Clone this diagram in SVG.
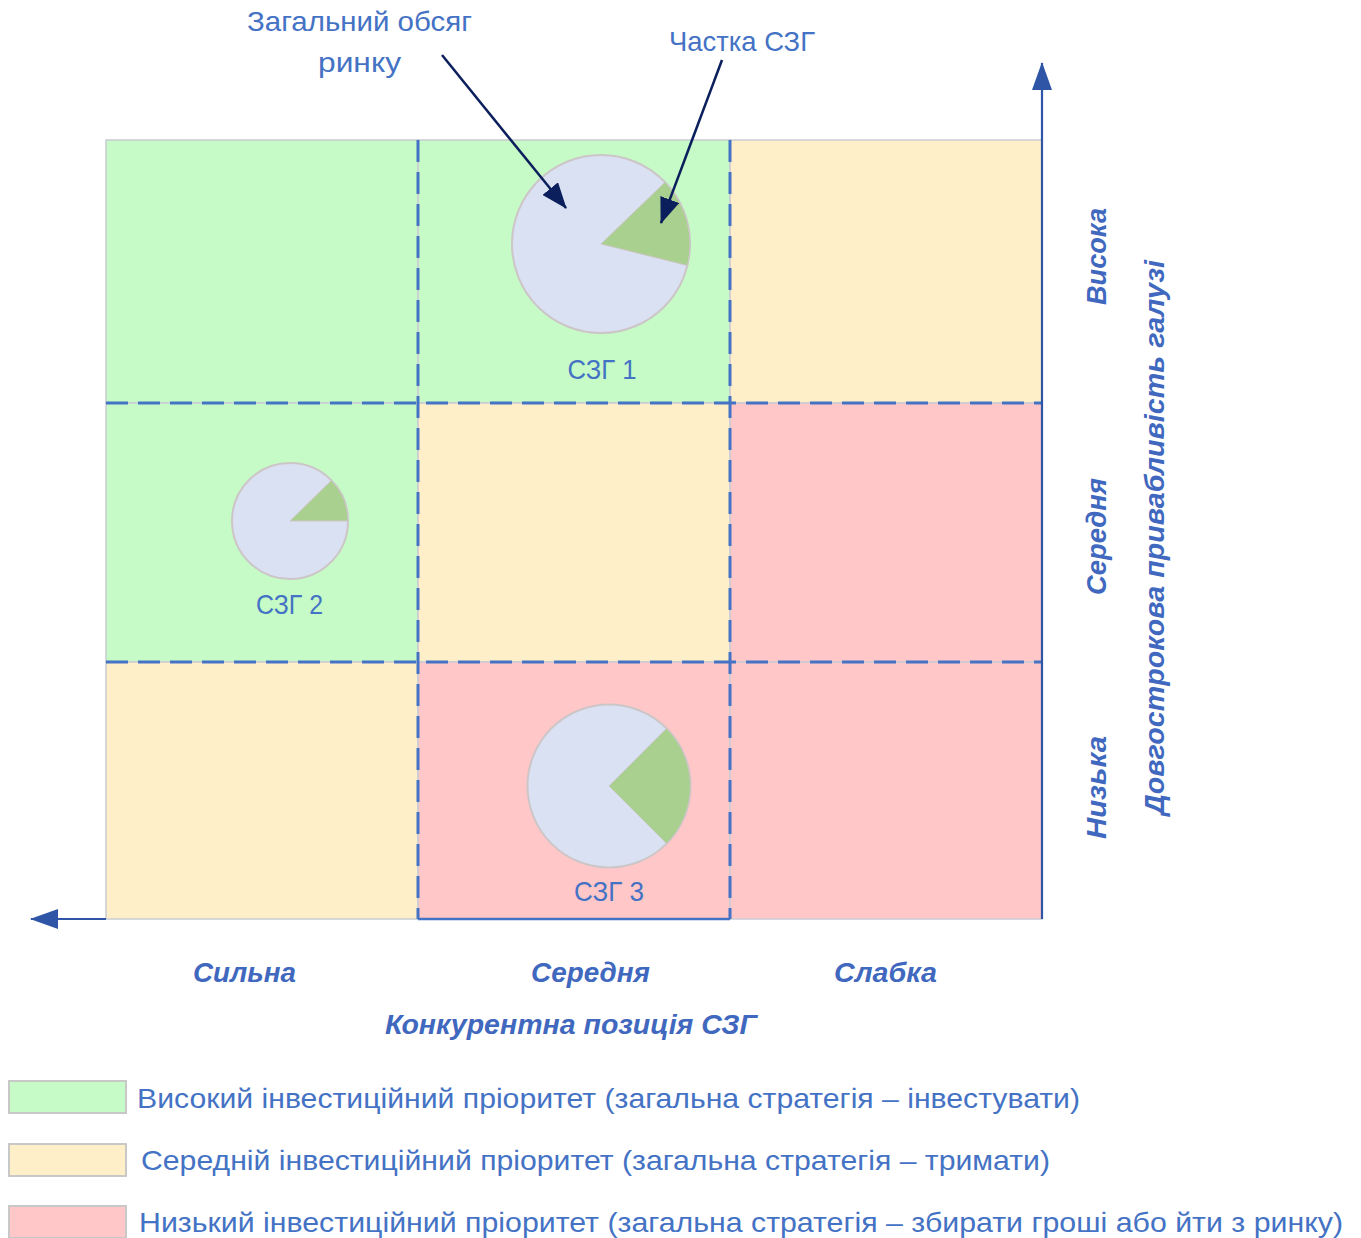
<svg xmlns="http://www.w3.org/2000/svg" width="1361" height="1238" viewBox="0 0 1361 1238">
  <style>
    .txt { font-family: "Liberation Sans", Arial, sans-serif; font-size: 28px; fill: #4472C4; }
    .ax { font-family: "Liberation Sans", Arial, sans-serif; font-size: 28px; font-weight: bold; font-style: italic; fill: #3F68BE; }
    .green { fill: #C6FAC6; }
    .yellow { fill: #FFEFC8; }
    .pink { fill: #FFC7C7; }
    .cell { stroke: #C9CCD4; stroke-width: 1.5; }
    .dash { stroke: #4472C4; stroke-width: 3; stroke-dasharray: 22 10; fill: none; }
    .pie { fill: #D9E1F2; stroke: #CDC6C8; stroke-width: 2; }
    .wedge { fill: #A9D08E; stroke: #CDC6C8; stroke-width: 1; }
    .callout { stroke: #0B1F5C; stroke-width: 2.5; fill: none; }
    .axis { stroke: #2F56A6; stroke-width: 2.2; fill: none; }
    .swatch { stroke: #C8C8C8; stroke-width: 2; }
  </style>
  <defs>
    <marker id="headDark" viewBox="0 0 26 20" refX="25" refY="10" markerWidth="26" markerHeight="20" markerUnits="userSpaceOnUse" orient="auto">
      <path d="M0,0 L26,10 L0,20 Z" fill="#0B1F5C"/>
    </marker>
    <marker id="headAxis" viewBox="0 0 28 20" refX="27" refY="10" markerWidth="28" markerHeight="20" markerUnits="userSpaceOnUse" orient="auto">
      <path d="M0,0 L28,10 L0,20 Z" fill="#2F56A6"/>
    </marker>
  </defs>
  <rect width="1361" height="1238" fill="#FFFFFF"/>

  <!-- matrix cells -->
  <g id="matrix">
    <rect class="cell green" x="106" y="140" width="312" height="263"/>
    <rect class="cell green" x="418" y="140" width="312" height="263"/>
    <rect class="cell yellow" x="730" y="140" width="312" height="263"/>
    <rect class="cell green" x="106" y="403" width="312" height="259"/>
    <rect class="cell yellow" x="418" y="403" width="312" height="259"/>
    <rect class="cell pink" x="730" y="403" width="312" height="259"/>
    <rect class="cell yellow" x="106" y="662" width="312" height="257"/>
    <rect class="cell pink" x="418" y="662" width="312" height="257"/>
    <rect class="cell pink" x="730" y="662" width="312" height="257"/>
    <line x1="418" y1="919" x2="730" y2="919" stroke="#4472C4" stroke-width="2.5"/>
    <line class="dash" x1="106" y1="403" x2="1042" y2="403"/>
    <line class="dash" x1="106" y1="662" x2="1042" y2="662"/>
    <line class="dash" x1="418" y1="140" x2="418" y2="919"/>
    <line class="dash" x1="730" y1="140" x2="730" y2="919"/>
  </g>

  <!-- SBU pies -->
  <g id="sbu1">
    <circle class="pie" cx="601" cy="244" r="89"/>
    <path class="wedge" d="M601,244 L665,182.2 A89,89 0 0 1 687.4,265.5 Z"/>
    <text class="txt" x="602" y="379" text-anchor="middle" textLength="69" lengthAdjust="spacingAndGlyphs">СЗГ 1</text>
  </g>
  <g id="sbu2">
    <circle class="pie" cx="290" cy="521" r="58"/>
    <path class="wedge" d="M290,521 L331.4,480.4 A58,58 0 0 1 348,521 Z"/>
    <text class="txt" x="289.5" y="614" text-anchor="middle" textLength="67" lengthAdjust="spacingAndGlyphs">СЗГ 2</text>
  </g>
  <g id="sbu3">
    <circle class="pie" cx="609" cy="786" r="81.5"/>
    <path class="wedge" d="M609,786 L666.6,728.4 A81.5,81.5 0 0 1 666.6,843.6 Z"/>
    <text class="txt" x="609" y="901" text-anchor="middle" textLength="70" lengthAdjust="spacingAndGlyphs">СЗГ 3</text>
  </g>

  <!-- callout labels -->
  <g id="label-market">
    <text class="txt" x="359.5" y="31" text-anchor="middle" textLength="225" lengthAdjust="spacingAndGlyphs">Загальний обсяг</text>
    <text class="txt" x="359.5" y="72" text-anchor="middle" textLength="83" lengthAdjust="spacingAndGlyphs">ринку</text>
  </g>
  <g id="label-share">
    <text class="txt" x="742" y="51" text-anchor="middle" textLength="146" lengthAdjust="spacingAndGlyphs">Частка СЗГ</text>
  </g>

  <!-- axis labels -->
  <g id="x-axis-labels">
    <text class="ax" x="244.5" y="982" text-anchor="middle" textLength="103" lengthAdjust="spacingAndGlyphs">Сильна</text>
    <text class="ax" x="590.5" y="982" text-anchor="middle" textLength="119" lengthAdjust="spacingAndGlyphs">Середня</text>
    <text class="ax" x="885.5" y="982" text-anchor="middle" textLength="103" lengthAdjust="spacingAndGlyphs">Слабка</text>
    <text class="ax" x="571" y="1034" text-anchor="middle" textLength="372" lengthAdjust="spacingAndGlyphs">Конкурентна позиція СЗГ</text>
  </g>
  <g id="y-axis-labels">
    <text class="ax" transform="translate(1106,256.5) rotate(-90)" text-anchor="middle" textLength="97" lengthAdjust="spacingAndGlyphs">Висока</text>
    <text class="ax" transform="translate(1106,536.5) rotate(-90)" text-anchor="middle" textLength="117" lengthAdjust="spacingAndGlyphs">Середня</text>
    <text class="ax" transform="translate(1106,787.5) rotate(-90)" text-anchor="middle" textLength="103" lengthAdjust="spacingAndGlyphs">Низька</text>
    <text class="ax" transform="translate(1164,537.5) rotate(-90)" text-anchor="middle" textLength="555" lengthAdjust="spacingAndGlyphs">Довгострокова привабливість галузі</text>
  </g>

  <!-- connectors: callout arrows and axes -->
  <g id="connectors">
    <line class="callout" x1="442" y1="55" x2="566" y2="208" marker-end="url(#headDark)"/>
    <line class="callout" x1="722" y1="60" x2="661" y2="223" marker-end="url(#headDark)"/>
    <line class="axis" x1="106" y1="919" x2="31" y2="919" marker-end="url(#headAxis)"/>
    <line class="axis" x1="1042" y1="919" x2="1042" y2="63" marker-end="url(#headAxis)"/>
  </g>

  <!-- legend -->
  <g id="legend-high">
    <rect class="swatch green" x="9" y="1081" width="117" height="32"/>
    <text class="txt" x="137" y="1108" textLength="943" lengthAdjust="spacingAndGlyphs">Високий інвестиційний пріоритет (загальна стратегія – інвестувати)</text>
  </g>
  <g id="legend-medium">
    <rect class="swatch yellow" x="9" y="1144" width="117" height="32"/>
    <text class="txt" x="141" y="1170" textLength="909" lengthAdjust="spacingAndGlyphs">Середній інвестиційний  пріоритет (загальна стратегія – тримати)</text>
  </g>
  <g id="legend-low">
    <rect class="swatch pink" x="9" y="1206" width="117" height="32"/>
    <text class="txt" x="139" y="1232" textLength="1204" lengthAdjust="spacingAndGlyphs">Низький інвестиційний пріоритет (загальна стратегія – збирати гроші або йти з ринку)</text>
  </g>
</svg>
